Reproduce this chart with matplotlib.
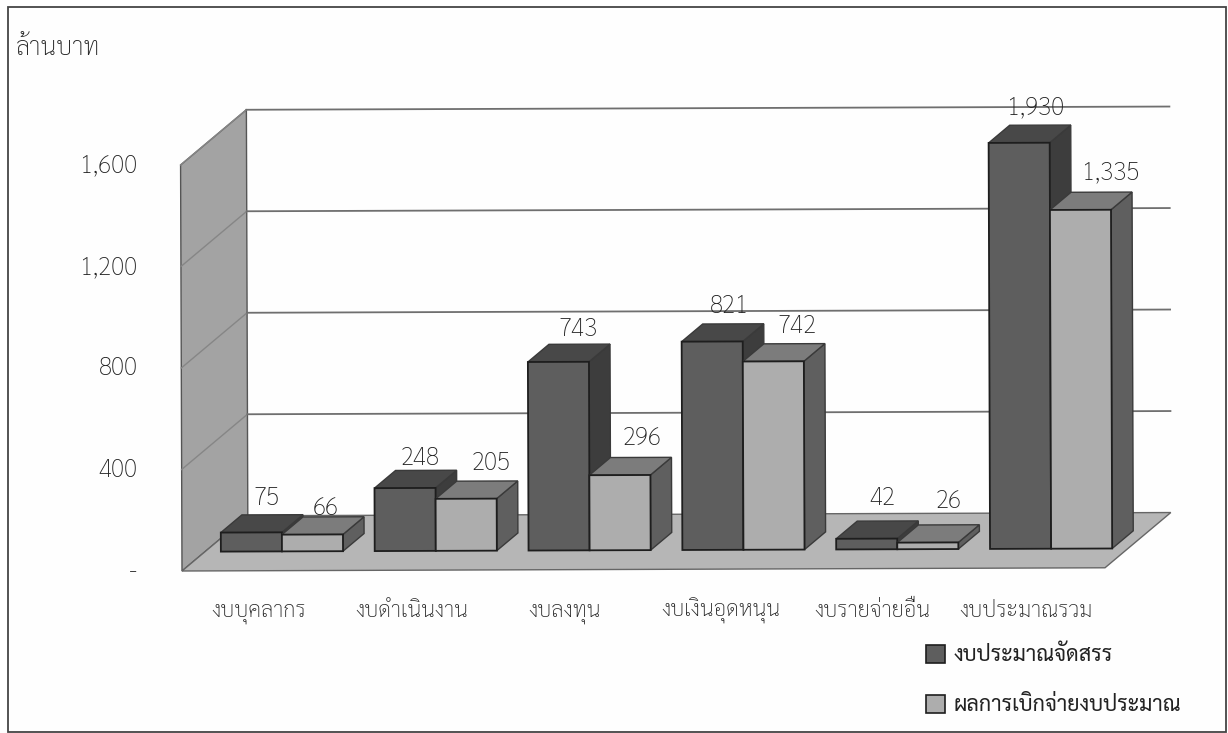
import matplotlib
matplotlib.use("Agg")
import matplotlib.pyplot as plt
from matplotlib.patches import Patch, Polygon, Rectangle
from matplotlib.transforms import Affine2D, ScaledTranslation
import warnings

warnings.filterwarnings("ignore")

# data
categories = ["งบบุคลากร", "งบดำเนินงาน", "งบลงทุน", "งบเงินอุดหนุน", "งบรายจ่ายอื่น", "งบประมาณรวม"]
allocated = [75, 248, 743, 821, 42, 1930]
disbursed = [66, 205, 296, 742, 26, 1335]
allocated_labels = ["75", "248", "743", "821", "42", "1,930"]
disbursed_labels = ["66", "205", "296", "742", "26", "1,335"]
yticks = [0, 400, 800, 1200, 1600]
ytick_labels = ["-", "400", "800", "1,200", "1,600"]
series_names = ["งบประมาณจัดสรร", "ผลการเบิกจ่ายงบประมาณ"]
unit_label = "ล้านบาท"

# value label nudges from bar top centre, in pixels
allocated_nudge = [(15, 34), (15, 30), (20, 32), (17, 35), (16, 40), (16, 35)]
disbursed_nudge = [(13, 26), (25, 35), (22, 37), (24, 35), (21, 41), (30, 37)]
xtick_nudge = [0, -1, -2, 0, -2, -2]

# oblique "3d" look, depth in data units
ymax = 1600
depth_x = 0.429
depth_y = 216.8
bar_w = 0.397
d_front, d_back = 0.35, 0.67

plt.rcParams['font.family'] = ['Sarabun', 'DejaVu Sans']
W, H = 1228, 733
fig = plt.figure(figsize=(W / 100, H / 100), dpi=100, facecolor='#fefefe')
ax = fig.add_axes([182 / W, 1 - 571 / H, 923 / W, 406 / H])
ax.set_xlim(-0.5, 5.5)
ax.set_ylim(0, ymax)
ax.patch.set_visible(False)
for s in ax.spines.values():
    s.set_visible(False)

# scan is slightly rotated
tilt = Affine2D().rotate_deg_around(182, 162, 0.2)
trans = ax.transData + tilt


def proj(x, v, d):
    return (x + d * depth_x, v + d * depth_y)


def poly(pts, fc, z, ec='#3a3a3a', lw=1.0):
    ax.add_patch(Polygon(pts, closed=True, facecolor=fc, edgecolor=ec, linewidth=lw,
                         transform=trans, clip_on=False, zorder=z))


def box(x0, x1, v, front, top, side, z):
    # side and top first, the front face goes over them
    poly([proj(x1, 0, d_front), proj(x1, 0, d_back), proj(x1, v, d_back), proj(x1, v, d_front)], side, z)
    poly([proj(x0, v, d_front), proj(x1, v, d_front), proj(x1, v, d_back), proj(x0, v, d_back)], top, z)
    poly([proj(x0, 0, d_front), proj(x1, 0, d_front), proj(x1, v, d_front), proj(x0, v, d_front)], front, z,
         ec='#1e1e1e', lw=1.3)


# walls and floor
poly([proj(-0.5, 0, 0), proj(-0.5, 0, 1), proj(-0.5, ymax, 1), proj(-0.5, ymax, 0)], '#a3a3a3', 1, ec='#555555')
poly([proj(-0.5, 0, 0), proj(5.5, 0, 0), proj(5.5, 0, 1), proj(-0.5, 0, 1)], '#b6b6b6', 1, ec='#666666')
for t in yticks[1:]:
    a, b, c = proj(-0.5, t, 0), proj(-0.5, t, 1), proj(5.5, t, 1)
    ax.plot([a[0], b[0]], [a[1], b[1]], color='#868686', lw=1.0, transform=trans, clip_on=False, zorder=2)
    ax.plot([b[0], c[0]], [b[1], c[1]], color='#6f6f6f', lw=1.3, transform=trans, clip_on=False, zorder=2)

# bars, the 1,930 bar stops at the top of the axis like the original
for i in range(len(categories)):
    v1 = min(allocated[i], ymax)
    v2 = min(disbursed[i], ymax)
    box(i - bar_w, i, v1, '#5e5e5e', '#484848', '#3d3d3d', 3 + i * 2)
    box(i, i + bar_w, v2, '#adadad', '#7c7c7c', '#5f5f5f', 4 + i * 2)
    for x, v, txt, nudge in [(i - bar_w / 2, v1, allocated_labels[i], allocated_nudge[i]),
                             (i + bar_w / 2, v2, disbursed_labels[i], disbursed_nudge[i])]:
        ax.annotate(txt, proj(x, v, d_front), xycoords=trans, xytext=(nudge[0] * 0.72, nudge[1] * 0.72),
                    textcoords='offset points', ha='center', va='center', fontsize=17.5,
                    fontweight='light', color='#222222', zorder=30, annotation_clip=False)

ax.set_yticks(yticks, ytick_labels, fontsize=17.5, fontweight='light', color='#222222')
ax.set_xticks(range(len(categories)), categories, fontsize=15.8, fontweight='light', color='#222222')
ax.tick_params(axis='both', length=0)
ax.tick_params(axis='y', pad=32)
ax.tick_params(axis='x', pad=33)
for lab, n in zip(ax.get_xticklabels(), xtick_nudge):
    # baseline so the thai marks above and below do not move the labels
    lab.set_verticalalignment('baseline')
    lab.set_transform(lab.get_transform() + ScaledTranslation(n / 100, 0, fig.dpi_scale_trans))
for lab in ax.get_yticklabels():
    lab.set_transform(lab.get_transform() + ScaledTranslation(0, 2 / 100, fig.dpi_scale_trans))

fig.text(16 / W, 1 - 55 / H, unit_label, fontsize=18, fontweight='light', color='#222222', va='baseline')

handles = [Patch(facecolor='#5e5e5e', edgecolor='#1e1e1e', lw=1.2),
           Patch(facecolor='#adadad', edgecolor='#1e1e1e', lw=1.2)]
fig.legend(handles, series_names, loc='upper left', bbox_to_anchor=(926 / W, 1 - 645 / H), frameon=False,
           fontsize=15.5, handlelength=0.9, handleheight=0.9, handletextpad=0.37, labelspacing=1.33,
           labelcolor='#222222', borderaxespad=0, borderpad=0)

# page frame around the figure
fig.add_artist(Rectangle((7.5 / W, 1 - 732 / H), 1218 / W, 725 / H, transform=fig.transFigure,
                         fill=False, edgecolor='#444444', lw=1.3))

fig.savefig("out.png", dpi=100, facecolor=fig.get_facecolor())
